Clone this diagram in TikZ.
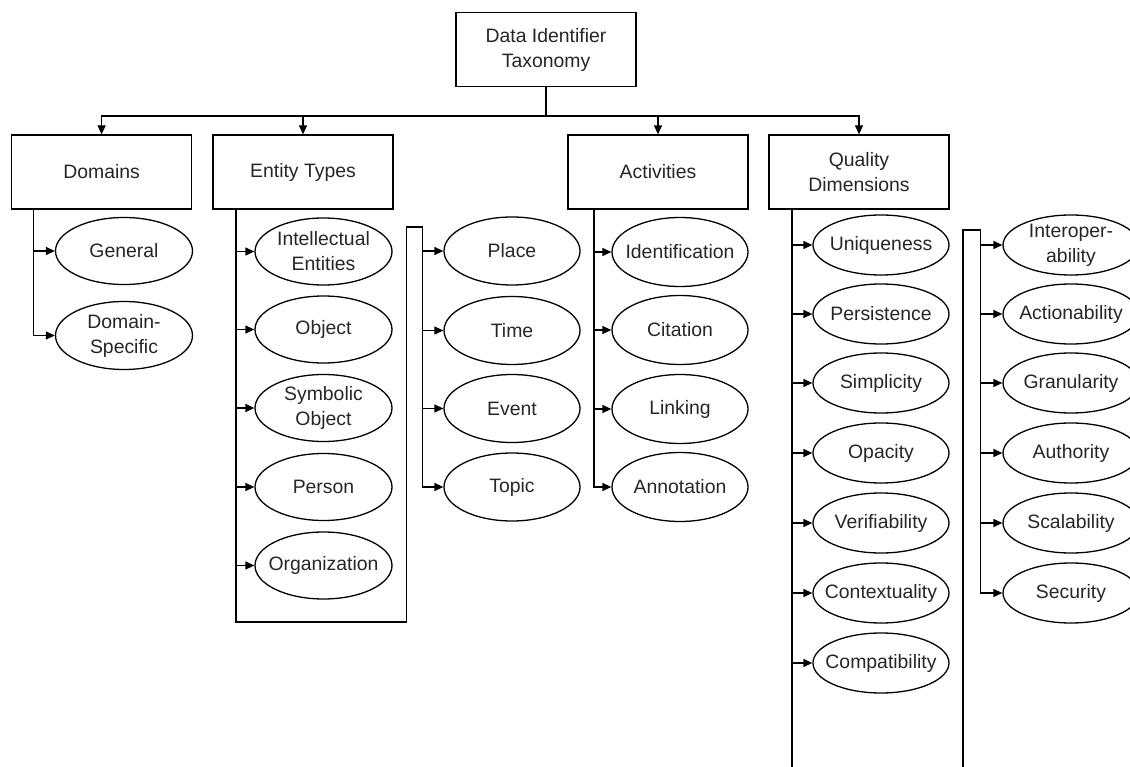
\documentclass[tikz,border=0pt]{standalone}
\usepackage{fontspec}
\setmainfont{Liberation Sans}
\usetikzlibrary{shapes.geometric,arrows.meta,calc}
\begin{document}
\begin{tikzpicture}[x=1pt,y=-1pt,
  line width=1.3pt,
  every node/.style={font=\fontsize{19.4}{25}\selectfont, text=black!85},
  catbox/.style={draw, rectangle, minimum width=180pt, minimum height=74pt, align=center, inner sep=0pt},
  oval/.style={draw, ellipse, minimum width=137pt, minimum height=67pt, inner xsep=-40pt, inner ysep=-14pt, align=center},
  ovalq/.style={oval, minimum width=136pt, minimum height=60pt},
  arr/.style={-{Triangle[length=9pt,width=8pt]}},
]
\useasboundingbox (0,0) rectangle (1130,767);
\clip (0,0) rectangle (1130,767);
\fill[white] (0,0) rectangle (1130,767);

% top and categories
\node[catbox] (top) at (546,49.5) {Data Identifier\\Taxonomy};
\node[catbox] (dom) at (101.6,172) {Domains};
\node[catbox] (ent) at (303,172) {Entity Types};
\node[catbox] (act) at (658,172) {Activities};
\node[catbox] (qual) at (859,172) {Quality\\Dimensions};

\coordinate (bus) at (546,116);
\draw[arr] (top.south) -- (bus) -| (dom.north);
\draw[arr] (top.south) -- (bus) -| (ent.north);
\draw[arr] (top.south) -- (bus) -| (act.north);
\draw[arr] (top.south) -- (bus) -| (qual.north);
\draw[line width=2.4pt] (top.south) -- (bus);
\draw[line width=1.9pt] (ent.north |- bus) -- (act.north |- bus);

% Domains
\node[oval] (gen) at (124,251) {General};
\node[oval, minimum height=68pt] (dsp) at (124,335.5) {Domain-\\Specific};
\coordinate (domv) at (33.5,209);
\draw[arr] (domv) |- (gen.west);
\draw[arr] (domv) |- (dsp.west);

% Entity types, first column
\node[oval] (ie) at (323.5,251.5) {Intellectual\\Entities};
\node[oval] (obj) at (323.5,329.5) {Object};
\node[oval] (sym) at (323.5,408) {Symbolic\\Object};
\node[oval] (per) at (323.5,487) {Person};
\node[oval] (org) at (323.5,565.5) {Organization};
\coordinate (entv) at (236,209);
\foreach \n in {ie,obj,sym,per,org} \draw[arr] (entv) |- (\n.west);

% Entity types, second column
\node[oval, minimum width=136pt, minimum height=68pt] (pla) at (512,251) {Place};
\node[oval, minimum width=136pt, minimum height=68pt] (tim) at (512,330.5) {Time};
\node[oval, minimum width=136pt, minimum height=68pt] (eve) at (512,408.5) {Event};
\node[oval, minimum width=136pt, minimum height=68pt] (top2) at (512,487) {Topic};
\coordinate (entb) at (236,622);
\coordinate (entr) at (406.7,622);
\coordinate (entt) at (406.7,227);
\coordinate (entloop) at (422.7,227);
\draw (entv) -- (entb) -- (entr) -- (entt) -- (entloop);
\foreach \n in {pla,tim,eve,top2} \draw[arr] (entloop) |- (\n.west);

% Activities
\node[oval, minimum width=136pt, minimum height=69pt] (idn) at (680,252) {Identification};
\node[oval, minimum width=136pt, minimum height=69pt] (cit) at (680,330) {Citation};
\node[oval, minimum width=136pt, minimum height=69pt] (lin) at (680,409) {Linking};
\node[oval, minimum width=136pt, minimum height=69pt] (ann) at (680,487) {Annotation};
\coordinate (actv) at (594,209);
\foreach \n in {idn,cit,lin,ann} \draw[arr] (actv) |- (\n.west);

% Quality dimensions, first column
\node[ovalq] (uni) at (881,245) {Uniqueness};
\node[ovalq] (pers) at (881,314) {Persistence};
\node[ovalq] (sim) at (881,383) {Simplicity};
\node[ovalq] (opa) at (881,453) {Opacity};
\node[ovalq] (ver) at (881,523) {Verifiability};
\node[ovalq] (con) at (881,593) {Contextuality};
\node[ovalq] (com) at (881,663) {Compatibility};
\coordinate (qv) at (792,209);
\foreach \n in {uni,pers,sim,opa,ver,con,com} \draw[arr] (qv) |- (\n.west);

% Quality dimensions, second column
\node[ovalq] (iop) at (1071,245) {Interoper-\\ability};
\node[ovalq] (acn) at (1071,314) {Actionability};
\node[ovalq] (gra) at (1071,383) {Granularity};
\node[ovalq] (aut) at (1071,453) {Authority};
\node[ovalq] (sca) at (1071,523) {Scalability};
\node[ovalq] (sec) at (1071,593) {Security};
\coordinate (qb) at (792,800);
\coordinate (qbr) at (963,800);
\coordinate (qt) at (963,230);
\coordinate (qloop) at (980.7,230);
\draw (qv) -- (qb) -- (qbr) -- (qt) -- (qloop);
\foreach \n in {iop,acn,gra,aut,sca,sec} \draw[arr] (qloop) |- (\n.west);
\end{tikzpicture}
\end{document}
